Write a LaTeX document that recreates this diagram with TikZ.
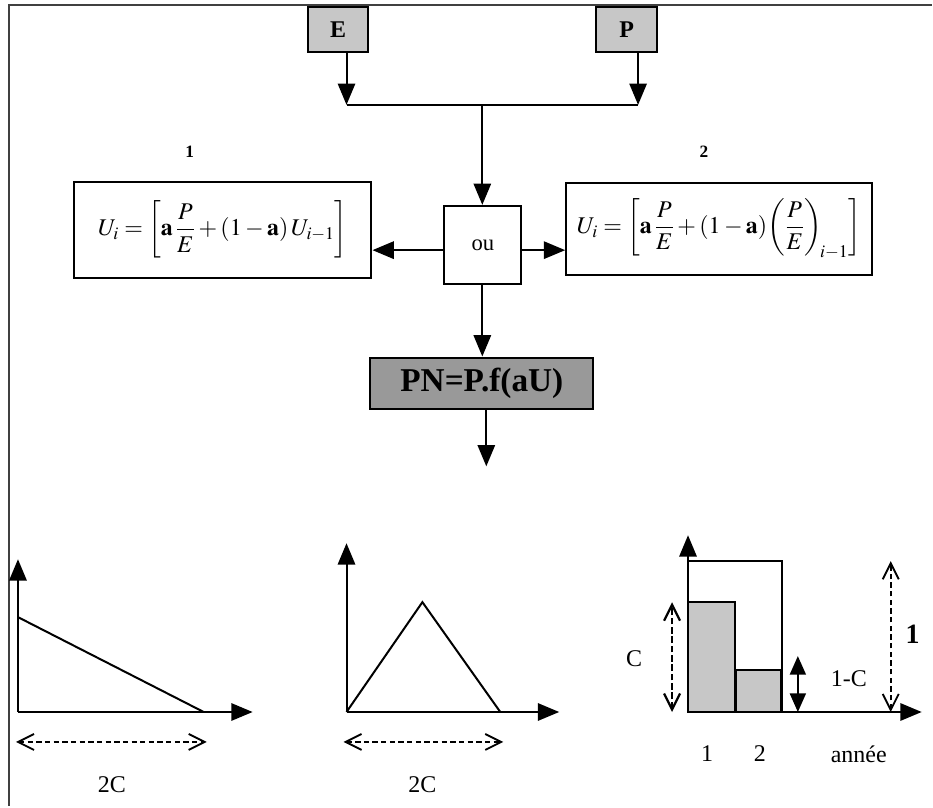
\documentclass[tikz,border=0pt]{standalone}
\usepackage{amsmath}
\usepackage{mathptmx}
\usepackage{fontspec}
\setmainfont{Liberation Serif}
\usetikzlibrary{arrows.meta}

\tikzset{
  box/.style={draw, line width=1.5pt, inner sep=0pt},
  inbox/.style={box, fill=black!22, font=\fontsize{18}{20}\selectfont\bfseries},
  arr/.style={line width=1.5pt, -{Triangle[length=16pt,width=13pt]}},
  twoarr/.style={line width=1.5pt, {Triangle[length=14pt,width=12pt]}-{Triangle[length=14pt,width=12pt]}},
  span/.style={line width=1.4pt, dash pattern=on 4pt off 2.5pt, {Straight Barb[length=12pt,width=12pt]}-{Straight Barb[length=12pt,width=12pt]}},
  lbl/.style={inner sep=0.75pt, font=\fontsize{18}{20}\selectfont},
}

\begin{document}
\begin{tikzpicture}[x=0.75pt,y=0.75pt,yscale=-1,xscale=1]
\path (0,0) rectangle (933,807); %set diagram size 933 x 807

%frame
\draw [line width=2pt, black!75] (933,5) -- (9,5) -- (9,807) ;

% Input boxes
\node [inbox, minimum width=45.75pt, minimum height=33.75pt] (E) at (338.5,29.5) {E};
\node [inbox, minimum width=45.75pt, minimum height=33.75pt] (P) at (627.5,29.5) {P};
\coordinate (jE) at (347,105);
\coordinate (jP) at (639,105);
\coordinate (jM) at (483,105);
\draw [arr] (E.south -| jE) -- (jE) ;
\draw [arr] (P.south -| jP) -- (jP) ;
\draw [line width=1.5pt] (jE) -- (jP) ;

% Text Node
\node [inner sep=0.75pt, font=\fontsize{13}{15}\selectfont\bfseries] (n1) at (190,152) {1};
% Text Node
\node [inner sep=0.75pt, font=\fontsize{13}{15}\selectfont\bfseries] (n2) at (705,152) {2};

% Choice box
\node [box, minimum width=57.75pt, minimum height=59pt, font=\fontsize{17}{19}\selectfont] (ou) at (483.5,245.5) {ou};
\draw [arr] (jM) -- (ou.north -| jM) ;

% Formula 1
\node [box, minimum width=223.5pt, minimum height=72pt, font=\fontsize{18}{20}\selectfont] (F1) at (223,230)
  {$U_{i} = \left[ \mathbf{a}\,\dfrac{P}{E} + \left(1-\mathbf{a}\right) U_{i-1} \right]$};
% Formula 2
\node [box, minimum width=229.5pt, minimum height=69pt, font=\fontsize{18}{20}\selectfont] (F2) at (720,229)
  {$U_{i} = \left[ \mathbf{a}\,\dfrac{P}{E} + \left(1-\mathbf{a}\right)\!\left(\dfrac{P}{E}\right)_{\!i-1} \right]$};
\draw [arr] ([yshift=3.75pt]ou.west) -- ([yshift=3.75pt]ou.west -| F1.east) ;
\draw [arr] ([yshift=3.75pt]ou.east) -- ([yshift=3.75pt]ou.east -| F2.west) ;

% Result box
\node [box, fill=black!40, minimum width=167.25pt, minimum height=39pt, font=\fontsize{25}{28}\selectfont\bfseries] (PN) at (482.5,384) {PN=P.f(aU)};
\draw [arr] (ou.south -| jM) -- (PN.north -| jM) ;
\coordinate (out) at (487,467);
\draw [arr] (PN.south -| out) -- (out) ;

%Graph 1: decreasing
\coordinate (o1) at (18,713);
\draw [arr] (o1) -- (18,560) ;
\draw [arr] (o1) -- (253,713) ;
\draw [line width=1.5pt] (18,618) -- (204,713) ;
\coordinate (a1) at (16,743);
\coordinate (b1) at (207,743);
\draw [span] (a1) -- (b1) ;
% Text Node
\node [lbl] (c1) at (112,786) {2C};

%Graph 2: triangle
\coordinate (o2) at (347,713);
\draw [arr] (o2) -- (347,544) ;
\draw [arr] (o2) -- (560,713) ;
\draw [line width=1.5pt] (o2) -- (423,603) -- (501,713) ;
\coordinate (a2) at (344,743);
\coordinate (b2) at (504,743);
\draw [span] (a2) -- (b2) ;
% Text Node
\node [lbl] (c2) at (423,786) {2C};

%Graph 3: bars
\coordinate (o3) at (689,713);
\draw [line width=1.5pt] (o3) rectangle (783,562) ;
\draw [line width=1.5pt, fill=black!22] (o3) rectangle (736,603) ;
\draw [line width=1.5pt, fill=black!22] (737,713) rectangle (782,671) ;
\draw [arr] (o3) -- (689,536) ;
\draw [arr] (o3) -- (923,713) ;
\coordinate (cT) at (673,603);
\coordinate (cB) at (673,713);
\draw [span, dash pattern=on 5pt off 2pt, line width=1.7pt] (cB) -- (cT) ;
\coordinate (dT) at (799,657);
\coordinate (dB) at (799,713);
\draw [twoarr] (dB) -- (dT) ;
\coordinate (eT) at (892,562);
\coordinate (eB) at (892,713);
\draw [span] (eB) -- (eT) ;
% Text Node
\node [lbl] (lc) at (635,660) {C};
% Text Node
\node [lbl] (lmc) at (850,680) {1-C};
% Text Node
\node [lbl, font=\fontsize{21}{24}\selectfont\bfseries] (lone) at (914,635) {1};
% Text Node
\node [lbl] (y1) at (708,755) {1};
% Text Node
\node [lbl] (y2) at (761,755) {2};
% Text Node
\node [lbl] (yr) at (860,755) {année};

\end{tikzpicture}
\end{document}
